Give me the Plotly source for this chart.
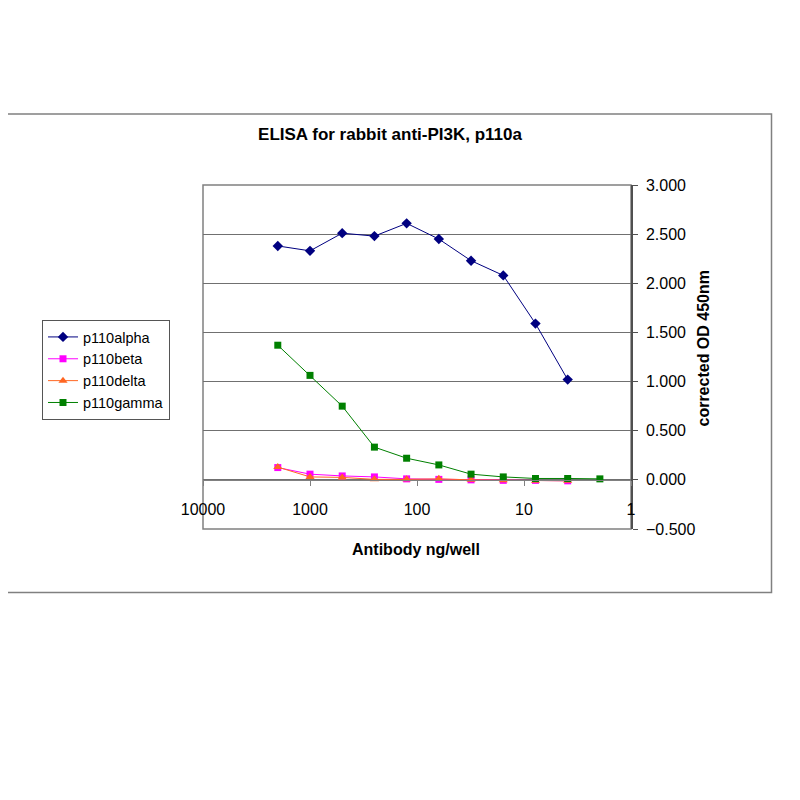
import plotly.graph_objects as go

# antibody amount per well (2-fold dilutions)
ng_per_well = [2000, 1000, 500, 250, 125, 62.5, 31.25, 15.625, 7.8125, 3.90625, 1.953125]

p110alpha = [2.38, 2.33, 2.51, 2.48, 2.61, 2.45, 2.23, 2.08, 1.59, 1.02]
p110beta = [0.125, 0.058, 0.040, 0.030, 0.010, 0.005, 0.000, -0.005, -0.005, -0.010]
p110delta = [0.130, 0.030, 0.025, 0.005, 0.005, 0.010, 0.000, -0.005, -0.010, -0.010]
p110gamma = [1.37, 1.063, 0.75, 0.333, 0.22, 0.152, 0.058, 0.030, 0.014, 0.014, 0.010]

x_ticks = [10000, 1000, 100, 10, 1]
y_ticks = [-0.5, 0, 0.5, 1.0, 1.5, 2.0, 2.5, 3.0]

FONT = "Liberation Sans, Arial, sans-serif"

# page has an 8px body margin, so screen px -> figure px
OFF = 8

# plot area in screen pixels
L, R, T, B = 203, 631, 185, 529


def px_x(px):
    return (px - L) / (R - L)


def px_y(py):
    return (B - py) / (B - T)


series = [
    ("p110alpha", p110alpha, "#000080", "diamond", 8),
    ("p110beta", p110beta, "#FF00FF", "square", 7),
    ("p110delta", p110delta, "#FF6622", "triangle-up", 8),
    ("p110gamma", p110gamma, "#008000", "square", 7),
]

fig = go.Figure()
for name, vals, col, sym, sz in series:
    fig.add_trace(go.Scatter(
        x=ng_per_well[:len(vals)], y=vals, name=name, mode="lines+markers",
        line=dict(color=col, width=1),
        marker=dict(color=col, symbol=sym, size=sz),
    ))

fig.update_layout(
    width=800, height=800,
    paper_bgcolor="white", plot_bgcolor="white",
    margin=dict(l=L - OFF, r=800 - (R - OFF), t=T - OFF, b=800 - (B - OFF),
                autoexpand=False),
    font=dict(family=FONT, color="black"),
    title=dict(text="<b>ELISA for rabbit anti-PI3K, p110a</b>",
               x=(390 - OFF) / 800, y=1 - (134 - OFF) / 800,
               xref="container", yref="container",
               xanchor="center", yanchor="middle", font=dict(size=17)),
    showlegend=True,
    legend=dict(x=px_x(42), y=px_y(320), xanchor="left", yanchor="top",
                bordercolor="#555555", borderwidth=1, bgcolor="white",
                font=dict(size=14.5), tracegroupgap=0),
    xaxis=dict(type="log", range=[4, 0], tickvals=x_ticks,
               ticktext=[str(v) for v in x_ticks],
               anchor="free", position=0.5 / 3.5,
               showline=True, linecolor="#808080", linewidth=1.2,
               ticks="outside", ticklen=5, tickcolor="#808080",
               showgrid=False, zeroline=False,
               tickfont=dict(size=16), ticklabelstandoff=10),
    yaxis=dict(side="right", range=[-0.5, 3.0], tickvals=y_ticks,
               tickformat=".3f", showgrid=True, gridcolor="#707070", gridwidth=1.2,
               showline=True, linecolor="#505050", linewidth=1.5,
               ticks="outside", ticklen=5, tickcolor="#505050",
               zeroline=False, tickfont=dict(size=16), ticklabelstandoff=5),
    shapes=[
        dict(type="rect", xref="paper", yref="paper", x0=0, x1=1, y0=0, y1=1,
             line=dict(color="#808080", width=1.5), layer="below"),
        dict(type="rect", xref="paper", yref="paper",
             x0=px_x(7), x1=px_x(771.5), y0=px_y(114), y1=px_y(592.5),
             line=dict(color="#808080", width=1.5)),
    ],
    annotations=[
        dict(text="<b>Antibody ng/well</b>", xref="paper", yref="paper",
             x=px_x(416), y=px_y(560), showarrow=False, font=dict(size=16)),
        dict(text="<b>corrected OD 450nm</b>", xref="paper", yref="paper",
             x=px_x(713), y=px_y(348), showarrow=False, textangle=-90,
             font=dict(size=16)),
    ],
)

fig.write_html("out.html")
